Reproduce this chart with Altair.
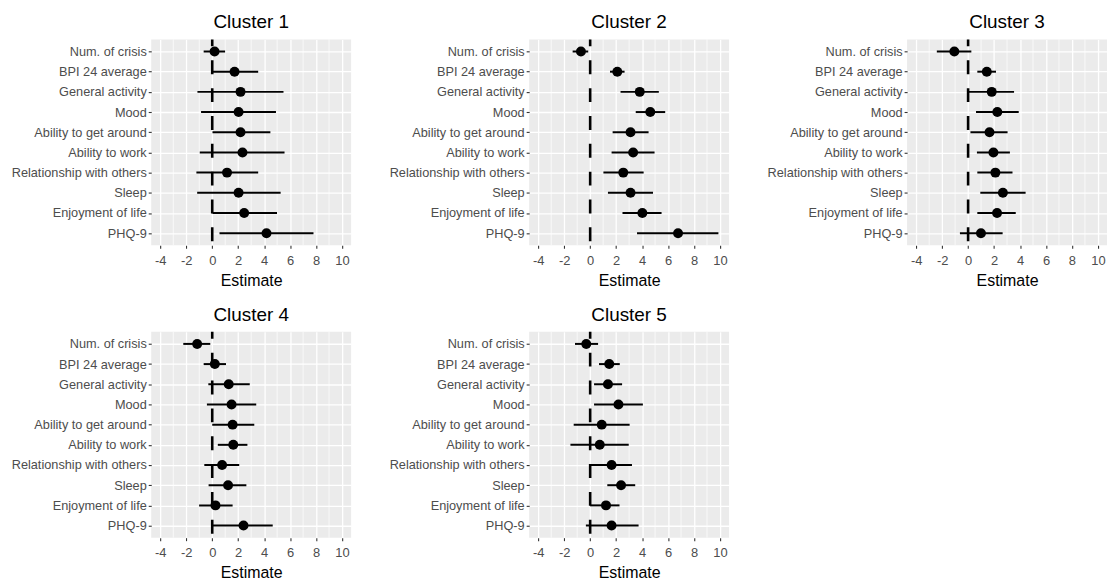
import altair as alt
import pandas as pd

categories = ["Num. of crisis", "BPI 24 average", "General activity", "Mood",
              "Ability to get around", "Ability to work", "Relationship with others",
              "Sleep", "Enjoyment of life", "PHQ-9"]

est1 = [0.18, 1.72, 2.18, 2.03, 2.18, 2.33, 1.14, 2.03, 2.46, 4.18]
lo1 = [-0.66, 0.02, -1.14, -0.86, 0.02, -0.96, -1.22, -1.16, 0.03, 0.56]
hi1 = [0.99, 3.54, 5.49, 4.91, 4.48, 5.57, 3.54, 5.27, 4.99, 7.80]

est2 = [-0.71, 2.09, 3.82, 4.63, 3.11, 3.31, 2.55, 3.11, 4.02, 6.77]
lo2 = [-1.35, 1.53, 2.34, 3.51, 1.73, 1.65, 1.02, 1.37, 2.49, 3.61]
hi2 = [-0.15, 2.65, 5.29, 5.78, 4.50, 4.96, 4.12, 4.84, 5.50, 9.88]

est3 = [-1.06, 1.44, 1.82, 2.25, 1.65, 1.95, 2.10, 2.68, 2.23, 0.99]
lo3 = [-2.41, 0.71, 0.05, 0.61, 0.18, 0.68, 0.71, 0.94, 0.71, -0.63]
hi3 = [0.25, 2.15, 3.54, 3.90, 3.04, 3.22, 3.42, 4.43, 3.67, 2.66]

est4 = [-1.16, 0.20, 1.27, 1.49, 1.57, 1.62, 0.76, 1.22, 0.25, 2.41]
lo4 = [-2.23, -0.66, -0.30, -0.41, 0.00, 0.43, -0.61, -0.28, -1.01, 0.00]
hi4 = [-0.15, 1.06, 2.89, 3.39, 3.24, 2.71, 2.08, 2.63, 1.57, 4.66]

est5 = [-0.30, 1.47, 1.37, 2.18, 0.89, 0.74, 1.65, 2.38, 1.22, 1.65]
lo5 = [-1.17, 0.68, 0.30, 0.30, -1.27, -1.52, 0.00, 1.32, 0.00, -0.33]
hi5 = [0.61, 2.28, 2.46, 4.06, 3.04, 2.97, 3.22, 3.47, 2.26, 3.73]

clusters = ["Cluster 1", "Cluster 2", "Cluster 3", "Cluster 4", "Cluster 5"]
series = [(est1, lo1, hi1), (est2, lo2, hi2), (est3, lo3, hi3),
          (est4, lo4, hi4), (est5, lo5, hi5)]

major_ticks = [-4, -2, 0, 2, 4, 6, 8, 10]
minor_ticks = [-3, -1, 1, 3, 5, 7, 9]
x_domain = [-4.7, 10.7]
ref_line = [0]

W = 201
H = 207
FONT = "Liberation Sans"

def panel(title, est, lo, hi):
    df = pd.DataFrame({"cat": categories, "est": est, "lo": lo, "hi": hi})
    xs = alt.Scale(domain=x_domain, nice=False, zero=False)
    ys = alt.Scale(type="point", domain=categories, padding=0.6)
    xaxis = alt.Axis(values=major_ticks, title="Estimate", labelExpr="'' + datum.value",
                     labelOverlap=False, labelFlush=False, labelBound=False,
                     tickCount=8,
                     grid=True, gridColor="white", gridWidth=1.3,
                     domain=False, tickColor="#333333", tickSize=3, tickWidth=1.1,
                     labelColor="#4D4D4D", labelFontSize=13, labelFont=FONT,
                     labelPadding=6, titleFont=FONT, titleFontSize=16,
                     titleFontWeight="normal", titleColor="black", titlePadding=5)
    yaxis = alt.Axis(title=None, grid=True, gridColor="white", gridWidth=1.3,
                     labelOverlap=False,
                     domain=False, tickColor="#333333", tickSize=3, tickWidth=1.1,
                     labelColor="#4D4D4D", labelFontSize=12.8, labelFont=FONT,
                     labelPadding=2, minExtent=144, maxExtent=144)
    minor = alt.Chart(pd.DataFrame({"m": minor_ticks})).mark_rule(
        color="white", strokeWidth=0.7).encode(
        x=alt.X("m:Q", scale=xs, axis=xaxis, title="Estimate"),
        y=alt.value(0), y2=alt.value(H))
    vline = alt.Chart(pd.DataFrame({"z": ref_line})).mark_rule(
        color="black", strokeWidth=2.6, strokeDash=[14, 14], strokeDashOffset=24).encode(
        x=alt.X("z:Q", scale=xs, axis=xaxis, title="Estimate"),
        y=alt.value(H), y2=alt.value(0))
    bars = alt.Chart(df).mark_rule(color="black", strokeWidth=2).encode(
        x=alt.X("lo:Q", scale=xs, axis=xaxis, title="Estimate"), x2="hi:Q",
        y=alt.Y("cat:N", scale=ys, sort=categories, axis=yaxis))
    pts = alt.Chart(df).mark_circle(color="black", opacity=1, size=100).encode(
        x=alt.X("est:Q", scale=xs, axis=xaxis, title="Estimate"),
        y=alt.Y("cat:N", scale=ys, sort=categories, axis=yaxis))
    return alt.layer(minor, vline, bars, pts).properties(
        width=W, height=H,
        title=alt.TitleParams(title, fontSize=19, font=FONT, fontWeight="normal",
                              color="black", anchor="middle", offset=6))

panels = [panel(c, *s) for c, s in zip(clusters, series)]
row1 = alt.hconcat(panels[0], panels[1], panels[2], spacing=35)
row2 = alt.hconcat(panels[3], panels[4], spacing=35)
chart = alt.vconcat(row1, row2, spacing=17).properties(
    padding={"left": 0, "top": 3, "right": 0, "bottom": 0},
    background="white"
).configure_view(fill="#EBEBEB", strokeWidth=0)

chart.save("out.html", embed_options={"renderer": "svg", "actions": False})
